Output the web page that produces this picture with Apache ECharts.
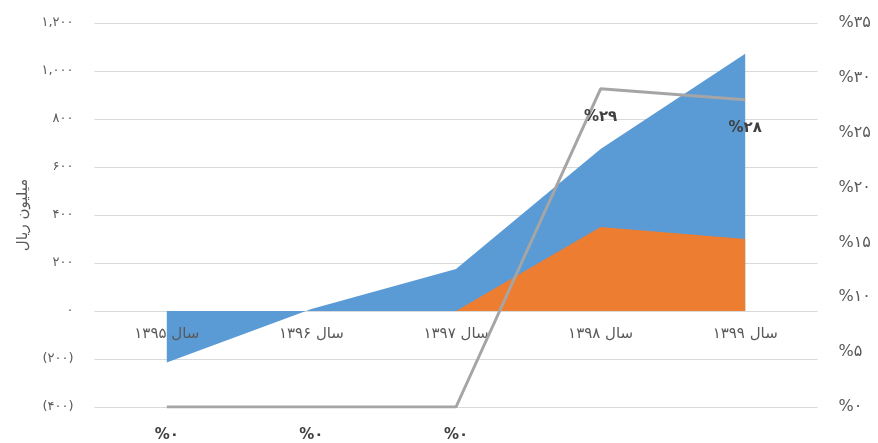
<!DOCTYPE html>
<html>
<head>
<meta charset="utf-8">
<script src="https://cdn.jsdelivr.net/npm/echarts@6/dist/echarts.min.js"></script>
<style>
  html, body { margin: 0; padding: 0; background: #fff; }
  #chart { width: 878px; height: 443px; }
</style>
</head>
<body>
<div id="chart"></div>
<script>
// Years (Persian calendar)
const categories = ['سال ۱۳۹۵', 'سال ۱۳۹۶', 'سال ۱۳۹۷', 'سال ۱۳۹۸', 'سال ۱۳۹۹'];
// Amounts in million rials
const blueValues = [-215, 8, 175, 675, 1072];
const orangeValues = [0, 0, 0, 350, 300];
// Percentage line (right axis)
const percentValues = [0, 0, 0, 29, 28];

const leftTicks = { min: -400, max: 1200, interval: 200 };
const rightTicks = { min: 0, max: 35, interval: 5 };

const FONT = "'DejaVu Sans', 'Noto Sans', sans-serif";
const GRID_TOP = 23, GRID_BOTTOM = 36, CHART_H = 443;

function toFa(str) {
  return String(str).replace(/[0-9]/g, d => '۰۱۲۳۴۵۶۷۸۹'[+d]);
}
function leftFmt(v) {
  const s = Math.abs(v).toLocaleString('en-US');
  return v < 0 ? '(' + toFa(s) + ')' : toFa(s);
}

// Distance from the grid's bottom edge up to the zero line of the left axis,
// so the category axis sits on zero.
const plotH = CHART_H - GRID_TOP - GRID_BOTTOM;
const zeroLift = plotH * (0 - leftTicks.min) / (leftTicks.max - leftTicks.min);

const chart = echarts.init(document.getElementById('chart'));
chart.setOption({
  animation: false,
  backgroundColor: '#ffffff',
  grid: { left: 94.5, right: 60.5, top: GRID_TOP, bottom: GRID_BOTTOM },
  xAxis: {
    type: 'category',
    data: categories,
    boundaryGap: true,
    offset: -zeroLift,
    z: 4,
    axisLine: { show: false, onZero: false },
    axisTick: { show: false },
    axisLabel: { color: '#595959', fontSize: 15, fontFamily: FONT, margin: 16 }
  },
  yAxis: [
    {
      type: 'value',
      min: leftTicks.min, max: leftTicks.max, interval: leftTicks.interval,
      name: 'میلیون ریال',
      nameLocation: 'middle',
      nameRotate: 90,
      nameGap: 62,
      nameTextStyle: { color: '#595959', fontSize: 15, fontFamily: FONT },
      axisLine: { show: false },
      axisTick: { show: false },
      splitLine: { lineStyle: { color: '#d9d9d9', width: 1 } },
      axisLabel: { color: '#595959', fontSize: 13, fontFamily: FONT, margin: 21, formatter: leftFmt }
    },
    {
      type: 'value',
      min: rightTicks.min, max: rightTicks.max, interval: rightTicks.interval,
      position: 'right',
      axisLine: { show: false },
      axisTick: { show: false },
      splitLine: { show: false },
      axisLabel: {
        color: '#595959', fontSize: 16, fontFamily: FONT, margin: 21,
        formatter: v => '%' + toFa(v)
      }
    }
  ],
  series: [
    {
      type: 'line',
      data: blueValues,
      yAxisIndex: 0,
      symbol: 'none',
      lineStyle: { width: 0 },
      areaStyle: { color: '#5B9BD5', opacity: 1, origin: 0 },
      z: 1
    },
    {
      type: 'line',
      data: orangeValues,
      yAxisIndex: 0,
      symbol: 'none',
      lineStyle: { width: 0 },
      areaStyle: { color: '#ED7D31', opacity: 1, origin: 0 },
      z: 2
    },
    {
      type: 'line',
      data: percentValues,
      yAxisIndex: 1,
      symbol: 'circle',
      showSymbol: true,
      symbolSize: 1,
      itemStyle: { color: 'rgba(0,0,0,0)' },
      lineStyle: { color: '#A5A5A5', width: 3 },
      label: {
        show: true,
        position: 'bottom',
        distance: 20,
        color: '#404040',
        fontSize: 15,
        fontWeight: 'bold',
        fontFamily: FONT,
        formatter: p => '%' + toFa(p.value)
      },
      z: 5
    }
  ]
});
</script>
</body>
</html>
